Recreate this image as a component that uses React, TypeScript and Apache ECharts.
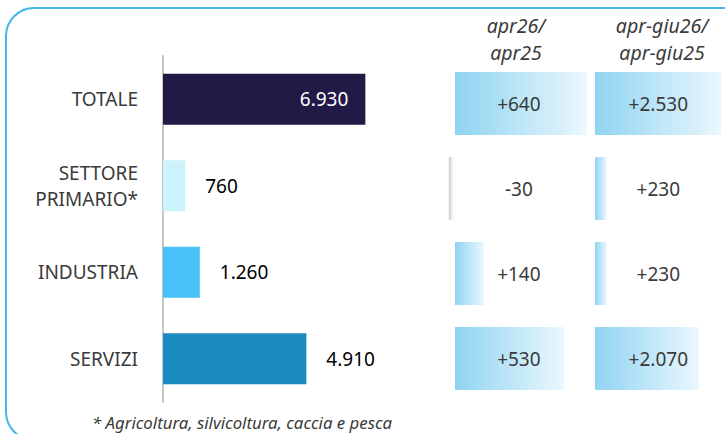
import React, { useEffect, useRef } from "react";
import * as echarts from "echarts";

const categories = ["TOTALE", "SETTORE\nPRIMARIO*", "INDUSTRIA", "SERVIZI"];
const values = [6930, 760, 1260, 4910];
const barColors = ["#211a46", "#ccf3fc", "#47c2f9", "#1a8bbf"];
const deltaMonth = [640, -30, 140, 530];
const deltaQuarter = [2530, 230, 230, 2070];
const columnHeaders = ["apr26/\napr25", "apr-giu26/\napr-giu25"];
const footnote = "* Agricoltura, silvicoltura, caccia e pesca";

const FONT = "'Noto Sans', 'Open Sans', sans-serif";
const TEXT = "#3a3a3a";

function fmt(v: number): string {
  const s = String(Math.abs(v)).replace(/\B(?=(\d{3})+(?!\d))/g, ".");
  return v < 0 ? "-" + s : s;
}
function fmtSigned(v: number): string {
  return (v > 0 ? "+" : "") + fmt(v);
}

const posGradient = () =>
  new echarts.graphic.LinearGradient(0, 0, 1, 0, [
    { offset: 0, color: "#8fd4f2" },
    { offset: 1, color: "#ebf7fd" },
  ]);
const negGradient = () =>
  new echarts.graphic.LinearGradient(0, 0, 1, 0, [
    { offset: 0, color: "#c9cbd4" },
    { offset: 0.4, color: "#e6e7ec" },
    { offset: 1, color: "rgba(255,255,255,0)" },
  ]);

// label anchors (axis units) for the centred numbers of each column
const COL1_LABEL_AT = 310;
const COL2_LABEL_AT = 1266;

export default function App() {
  const ref = useRef<HTMLDivElement>(null);
  useEffect(() => {
    if (!ref.current) return;
    const chart = echarts.init(ref.current, undefined, { renderer: "svg" });
    const deltaBar = (arr: number[]) =>
      arr.map((v) => ({
        value: v,
        itemStyle: { color: v < 0 ? negGradient() : posGradient() },
      }));
    const deltaLabels = (arr: number[], at: number, axis: number) => ({
      type: "scatter",
      xAxisIndex: axis,
      yAxisIndex: axis,
      symbolSize: 1,
      itemStyle: { color: "rgba(0,0,0,0)", opacity: 1 },
      data: arr.map((v, i) => [at, i, v]),
      label: {
        show: true,
        position: "inside",
        color: TEXT,
        opacity: 1,
        fontSize: 19,
        fontFamily: FONT,
        formatter: (p: any) => fmtSigned(p.value[2]),
      },
    });
    chart.setOption({
      animation: false,
      backgroundColor: "#ffffff",
      textStyle: { fontFamily: FONT },
      grid: [
        { left: 163, top: 56, height: 346, width: 292 },
        { left: 444.7, top: 61, height: 340, width: 144.2 },
        { left: 595, top: 61, height: 340, width: 143.8 },
      ],
      xAxis: [
        { gridIndex: 0, type: "value", min: 0, max: 10000, show: false },
        { gridIndex: 1, type: "value", min: -50, max: 650, show: false },
        { gridIndex: 2, type: "value", min: 0, max: 2600, show: false },
      ],
      yAxis: [
        {
          gridIndex: 0,
          type: "category",
          data: categories,
          inverse: true,
          axisLine: { show: true, lineStyle: { color: "#c6c6c6", width: 2 } },
          axisTick: { show: false },
          axisLabel: {
            color: TEXT,
            fontSize: 19,
            fontFamily: FONT,
            margin: 25,
            lineHeight: 26,
            align: "right",
          },
        },
        { gridIndex: 1, type: "category", data: categories, inverse: true, show: false },
        { gridIndex: 2, type: "category", data: categories, inverse: true, show: false },
      ],
      series: [
        {
          type: "bar",
          xAxisIndex: 0,
          yAxisIndex: 0,
          barWidth: 51,
          data: values.map((v, i) => ({
            value: v,
            itemStyle: { color: barColors[i] },
            label:
              i === 0
                ? { position: "insideRight", distance: 17, color: "#ffffff" }
                : { position: "right", distance: 20, color: "#000000" },
          })),
          label: {
            show: true,
            fontSize: 19,
            fontFamily: FONT,
            formatter: (p: any) => fmt(p.value),
          },
        },
        {
          type: "bar",
          xAxisIndex: 1,
          yAxisIndex: 1,
          barWidth: 63,
          data: deltaBar(deltaMonth),
        },
        {
          type: "bar",
          xAxisIndex: 2,
          yAxisIndex: 2,
          barWidth: 63,
          data: deltaBar(deltaQuarter),
        },
        deltaLabels(deltaMonth, COL1_LABEL_AT, 1),
        deltaLabels(deltaQuarter, COL2_LABEL_AT, 2),
      ],
      graphic: [
        {
          type: "rect",
          z: -10,
          silent: true,
          shape: { x: 6, y: 8, width: 760, height: 432, r: 28 },
          style: { fill: "none", stroke: "#42b7ea", lineWidth: 2 },
        },
        {
          type: "text",
          x: 516,
          y: 39,
          style: {
            text: columnHeaders[0],
            fill: TEXT,
            font: `italic 19.5px ${FONT}`,
            lineHeight: 27,
            textAlign: "center",
            textVerticalAlign: "middle",
          },
        },
        {
          type: "text",
          x: 662,
          y: 39,
          style: {
            text: columnHeaders[1],
            fill: TEXT,
            font: `italic 19.5px ${FONT}`,
            lineHeight: 27,
            textAlign: "center",
            textVerticalAlign: "middle",
          },
        },
        {
          type: "text",
          x: 92,
          y: 422,
          style: {
            text: footnote,
            fill: TEXT,
            font: `italic 16.8px ${FONT}`,
            textAlign: "left",
            textVerticalAlign: "middle",
          },
        },
      ],
    });
    return () => chart.dispose();
  }, []);
  return (
    <div
      ref={ref}
      style={{ position: "absolute", left: 0, top: 0, width: 725, height: 434 }}
    />
  );
}
